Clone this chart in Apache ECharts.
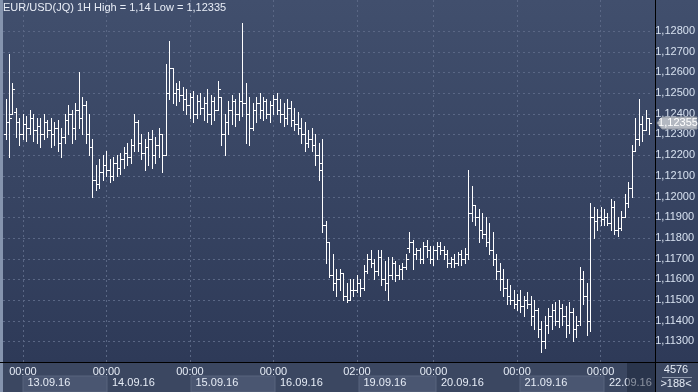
<!DOCTYPE html>
<html><head><meta charset="utf-8">
<script src="https://cdn.jsdelivr.net/npm/echarts@6/dist/echarts.min.js"></script>
<style>
html,body{margin:0;padding:0;width:698px;height:392px;overflow:hidden;background:#3a465f;}
#c{width:698px;height:392px;background:linear-gradient(to bottom,#414f6d 0px,#2e3a58 362px,#3b4761 362px,#3b4761 392px);}
</style></head><body><div id="c"></div>
<script>
// trading sessions shown: [date, first hour, last hour]
const sessions = [
  ['12.09.16', 19, 23], ['13.09.16', 0, 23], ['14.09.16', 0, 23], ['15.09.16', 0, 23],
  ['16.09.16', 0, 23], ['19.09.16', 2, 23], ['20.09.16', 0, 23], ['21.09.16', 0, 23],
  ['22.09.16', 0, 14]
];
const opens = [1.1230,1.1236,1.1240,1.1241,1.1236,1.1230,1.1235,1.1233,1.1238,1.1232,
1.1234,1.1230,1.1236,1.1232,1.1230,1.1233,1.1226,1.1229,1.1237,1.1240,
1.1233,1.1242,1.1238,1.1244,1.1230,1.1224,1.1208,1.1206,1.1212,1.1215,
1.1213,1.1210,1.1216,1.1214,1.1218,1.1221,1.1219,1.1225,1.1236,1.1226,
1.1221,1.1224,1.1228,1.1220,1.1225,1.1230,1.1220,1.1250,1.1262,1.1250,
1.1252,1.1249,1.1247,1.1244,1.1248,1.1240,1.1246,1.1243,1.1245,1.1240,
1.1246,1.1242,1.1248,1.1230,1.1236,1.1242,1.1246,1.1240,1.1246,1.1245,
1.1240,1.1233,1.1242,1.1245,1.1242,1.1246,1.1240,1.1244,1.1247,1.1242,
1.1240,1.1238,1.1243,1.1237,1.1235,1.1233,1.1230,1.1226,1.1228,1.1225,
1.1220,1.1216,1.1186,1.1178,1.1162,1.1158,1.1160,1.1163,1.1152,1.1150,
1.1155,1.1155,1.1158,1.1156,1.1164,1.1170,1.1168,1.1164,1.1171,1.1160,
1.1158,1.1162,1.1168,1.1162,1.1165,1.1166,1.1175,1.1178,1.1172,1.1174,
1.1170,1.1176,1.1174,1.1170,1.1174,1.1176,1.1174,1.1172,1.1168,1.1170,
1.1168,1.1172,1.1170,1.1172,1.1192,1.1196,1.1190,1.1184,1.1182,1.1178,
1.1174,1.1170,1.1164,1.1160,1.1156,1.1152,1.1150,1.1148,1.1150,1.1147,
1.1150,1.1148,1.1142,1.1145,1.1136,1.1130,1.1138,1.1142,1.1145,1.1140,
1.1146,1.1142,1.1138,1.1144,1.1136,1.1140,1.1160,1.1152,1.1140,1.1190,
1.1188,1.1190,1.1189,1.1190,1.1187,1.1195,1.1184,1.1185,1.1190,1.1197,
1.1204,1.1222,1.1228,1.1235,1.1232,1.1238];
const highs = [1.1247,1.1269,1.1255,1.1243,1.1238,1.1240,1.1239,1.1242,1.1240,1.1238,
1.1238,1.1240,1.1237,1.1238,1.1236,1.1237,1.1233,1.1240,1.1244,1.1242,
1.1245,1.1260,1.1248,1.1246,1.1240,1.1228,1.1215,1.1218,1.1220,1.1222,
1.1218,1.1219,1.1220,1.1221,1.1224,1.1226,1.1228,1.1240,1.1237,1.1230,
1.1228,1.1231,1.1232,1.1229,1.1233,1.1230,1.1264,1.1275,1.1262,1.1255,
1.1256,1.1253,1.1252,1.1250,1.1251,1.1249,1.1250,1.1248,1.1252,1.1249,
1.1248,1.1256,1.1248,1.1240,1.1246,1.1249,1.1247,1.1250,1.1284,1.1255,
1.1248,1.1245,1.1248,1.1250,1.1248,1.1247,1.1246,1.1249,1.1250,1.1247,
1.1245,1.1247,1.1246,1.1243,1.1241,1.1238,1.1236,1.1232,1.1233,1.1230,
1.1226,1.1228,1.1188,1.1178,1.1172,1.1165,1.1165,1.1163,1.1158,1.1160,
1.1160,1.1162,1.1160,1.1167,1.1172,1.1174,1.1170,1.1174,1.1174,1.1169,
1.1171,1.1171,1.1169,1.1167,1.1168,1.1172,1.1183,1.1179,1.1175,1.1175,
1.1178,1.1179,1.1176,1.1176,1.1178,1.1178,1.1176,1.1174,1.1171,1.1172,
1.1173,1.1174,1.1175,1.1213,1.1205,1.1196,1.1194,1.1192,1.1190,1.1187,
1.1183,1.1172,1.1168,1.1165,1.1160,1.1157,1.1155,1.1153,1.1155,1.1152,
1.1154,1.1152,1.1150,1.1146,1.1140,1.1142,1.1146,1.1148,1.1149,1.1150,
1.1148,1.1147,1.1149,1.1146,1.1142,1.1166,1.1164,1.1158,1.1197,1.1195,
1.1194,1.1195,1.1194,1.1192,1.1199,1.1198,1.1190,1.1193,1.1201,1.1207,
1.1225,1.1238,1.1247,1.1239,1.1242,1.1238];
const lows = [1.1228,1.1219,1.1240,1.1229,1.1225,1.1228,1.1227,1.1230,1.1227,1.1226,
1.1224,1.1228,1.1229,1.1224,1.1225,1.1222,1.1219,1.1226,1.1230,1.1226,
1.1228,1.1233,1.1230,1.1226,1.1220,1.1200,1.1203,1.1204,1.1208,1.1210,
1.1207,1.1208,1.1210,1.1211,1.1214,1.1215,1.1216,1.1222,1.1222,1.1218,
1.1213,1.1215,1.1214,1.1216,1.1219,1.1212,1.1220,1.1247,1.1245,1.1244,
1.1246,1.1242,1.1240,1.1238,1.1236,1.1238,1.1240,1.1237,1.1236,1.1235,
1.1237,1.1242,1.1225,1.1220,1.1230,1.1235,1.1234,1.1237,1.1239,1.1226,
1.1225,1.1232,1.1236,1.1238,1.1237,1.1238,1.1236,1.1240,1.1240,1.1236,
1.1234,1.1235,1.1234,1.1232,1.1230,1.1226,1.1222,1.1224,1.1222,1.1215,
1.1208,1.1183,1.1168,1.1161,1.1155,1.1152,1.1155,1.1150,1.1149,1.1150,
1.1152,1.1154,1.1152,1.1155,1.1163,1.1166,1.1160,1.1162,1.1157,1.1155,
1.1150,1.1160,1.1159,1.1160,1.1160,1.1165,1.1173,1.1165,1.1170,1.1168,
1.1168,1.1171,1.1168,1.1167,1.1170,1.1172,1.1170,1.1166,1.1166,1.1166,
1.1167,1.1167,1.1168,1.1170,1.1188,1.1186,1.1178,1.1180,1.1176,1.1172,
1.1167,1.1160,1.1155,1.1152,1.1148,1.1148,1.1146,1.1145,1.1144,1.1142,
1.1146,1.1138,1.1136,1.1132,1.1125,1.1127,1.1134,1.1136,1.1138,1.1137,
1.1138,1.1132,1.1134,1.1130,1.1132,1.1138,1.1148,1.1133,1.1135,1.1180,
1.1184,1.1186,1.1186,1.1186,1.1184,1.1182,1.1181,1.1184,1.1190,1.1195,
1.1200,1.1222,1.1225,1.1227,1.1232,1.1230];
const closes = [1.1236,1.1238,1.1252,1.1236,1.1230,1.1235,1.1233,1.1238,1.1232,1.1234,
1.1230,1.1236,1.1232,1.1230,1.1233,1.1226,1.1229,1.1237,1.1240,1.1233,
1.1242,1.1238,1.1244,1.1230,1.1224,1.1208,1.1206,1.1212,1.1215,1.1213,
1.1210,1.1216,1.1214,1.1218,1.1221,1.1219,1.1225,1.1236,1.1226,1.1221,
1.1224,1.1228,1.1220,1.1225,1.1230,1.1220,1.1250,1.1262,1.1250,1.1252,
1.1249,1.1247,1.1244,1.1248,1.1240,1.1246,1.1243,1.1245,1.1240,1.1246,
1.1242,1.1252,1.1230,1.1236,1.1242,1.1246,1.1240,1.1246,1.1245,1.1240,
1.1233,1.1242,1.1245,1.1242,1.1246,1.1240,1.1244,1.1247,1.1242,1.1240,
1.1238,1.1243,1.1237,1.1235,1.1233,1.1230,1.1226,1.1228,1.1225,1.1220,
1.1213,1.1186,1.1178,1.1162,1.1158,1.1160,1.1163,1.1152,1.1150,1.1155,
1.1155,1.1158,1.1156,1.1164,1.1170,1.1168,1.1164,1.1171,1.1160,1.1158,
1.1162,1.1168,1.1162,1.1165,1.1166,1.1170,1.1178,1.1172,1.1174,1.1170,
1.1176,1.1174,1.1170,1.1174,1.1176,1.1174,1.1172,1.1168,1.1170,1.1168,
1.1172,1.1170,1.1172,1.1192,1.1196,1.1190,1.1184,1.1182,1.1178,1.1174,
1.1170,1.1164,1.1160,1.1156,1.1152,1.1150,1.1148,1.1150,1.1147,1.1150,
1.1148,1.1142,1.1145,1.1136,1.1130,1.1138,1.1142,1.1145,1.1140,1.1146,
1.1142,1.1138,1.1144,1.1136,1.1138,1.1160,1.1152,1.1140,1.1190,1.1188,
1.1190,1.1189,1.1190,1.1187,1.1195,1.1184,1.1185,1.1190,1.1197,1.1204,
1.1222,1.1228,1.1235,1.1232,1.1238,1.12355];
const yTicks = [1.113,1.114,1.115,1.116,1.117,1.118,1.119,1.120,1.121,1.122,1.123,1.124,1.125,1.126,1.127,1.128];
const titleText = 'EUR/USD(JQ) 1H High = 1,14 Low = 1,12335';
const cornerTop = '4576';
const cornerBottom = '>188<';

const FONT = "'Liberation Sans Narrow','Arial Narrow','Liberation Sans',Arial,sans-serif";
const categories = [];
const catDate = [];
sessions.forEach(s => {
  for (let h = s[1]; h <= s[2]; h++) {
    categories.push(s[0] + ' ' + String(h).padStart(2, '0') + ':00');
    catDate.push(s[0]);
  }
});
const dayStart = categories.map((c, i) => i > 0 && catDate[i] !== catDate[i - 1]);
const n = Math.min(categories.length, opens.length, highs.length, lows.length, closes.length);
const ohlc = [];
for (let i = 0; i < n; i++) ohlc.push([i, opens[i], closes[i], lows[i], highs[i]]);

const dayAreas = [];
let dayNo = 0;
for (let i = 1; i < categories.length; i++) {
  if (!dayStart[i]) continue;
  let j = i + 1;
  while (j < categories.length && !dayStart[j]) j++;
  const endIdx = Math.min(j, categories.length - 1);
  const light = dayNo % 2 === 0;
  dayAreas.push([
    { name: catDate[i], xAxis: categories[i],
      itemStyle: light ? { color: '#4a5671', borderColor: '#58647e', borderWidth: 1 } : { color: 'rgba(0,0,0,0)' } },
    { xAxis: categories[endIdx] }
  ]);
  dayNo++;
}

const fmt = v => v.toFixed(5).replace('.', ',');
const GRID_COLOR = '#5a6785';
const chart = echarts.init(document.getElementById('c'), null, { renderer: 'canvas' });
chart.setOption({
  backgroundColor: 'transparent',
  animation: false,
  title: { text: titleText, left: 3, top: 2, padding: 0,
    textStyle: { color: '#e9eef7', fontSize: 11, fontWeight: 'normal', fontFamily: FONT } },
  grid: [
    { left: 5.5, right: 45, top: 0, bottom: 30 },
    { left: 5.5, right: 45, top: 376, height: 16 }
  ],
  xAxis: [
    { type: 'category', gridIndex: 0, data: categories, boundaryGap: false,
      axisLine: { show: false }, axisTick: { show: false },
      axisLabel: { interval: (i) => dayStart[i], formatter: v => v.split(' ')[1],
        color: '#e6ecf6', fontSize: 11, fontFamily: FONT, margin: 4 },
      splitLine: { show: true, interval: (i) => dayStart[i],
        lineStyle: { color: GRID_COLOR, type: [2, 3], width: 1 } } },
    { type: 'category', gridIndex: 1, data: categories, boundaryGap: false,
      axisLine: { show: false }, axisTick: { show: false }, axisLabel: { show: false },
      splitLine: { show: false } }
  ],
  yAxis: [
    { type: 'value', gridIndex: 0, position: 'right', offset: 2, min: 1.1120, max: 1.1295, interval: 0.001,
      axisLine: { show: false }, axisTick: { show: false }, splitLine: { show: false },
      axisLabel: { margin: 4, color: '#d6e0ef', fontSize: 11, fontFamily: FONT,
        formatter: v => (v > 1.1125 && v < 1.1285) ? fmt(v) : '' } },
    { type: 'value', gridIndex: 1, min: 0, max: 1, show: false }
  ],
  series: [
    // horizontal dashed grid lines at the price ticks
    { type: 'custom', name: 'grid', xAxisIndex: 0, yAxisIndex: 0, z: 1, silent: true,
      data: yTicks.map(v => [0, v]), encode: { x: 0, y: 1 },
      renderItem: function (params, api) {
        const cs = params.coordSys;
        const y = Math.round(api.coord([0, api.value(1)])[1]) + 0.5;
        return { type: 'line', shape: { x1: cs.x - 2.5, y1: y, x2: cs.x + cs.width + 2, y2: y },
          style: { stroke: GRID_COLOR, lineWidth: 1, lineDash: [2, 3] } };
      } },
    { type: 'custom', name: 'EUR/USD', xAxisIndex: 0, yAxisIndex: 0, z: 3,
      data: ohlc, encode: { x: 0, y: [1, 2, 3, 4] },
      renderItem: function (params, api) {
        const i = api.value(0);
        const po = api.coord([i, api.value(1)]);
        const pc = api.coord([i, api.value(2)]);
        const pl = api.coord([i, api.value(3)]);
        const ph = api.coord([i, api.value(4)]);
        const x = Math.round(po[0]) + 0.5;
        const yo = Math.round(po[1]) + 0.5, yc = Math.round(pc[1]) + 0.5;
        const st = { stroke: '#ffffff', lineWidth: 1 };
        return { type: 'group', children: [
          { type: 'line', shape: { x1: x, y1: Math.round(ph[1]), x2: x, y2: Math.round(pl[1]) + 1 }, style: st },
          { type: 'line', shape: { x1: x - 2.5, y1: yo, x2: x, y2: yo }, style: st },
          { type: 'line', shape: { x1: x, y1: yc, x2: x + 2.5, y2: yc }, style: st }
        ] };
      } },
    { type: 'line', xAxisIndex: 1, yAxisIndex: 1, data: categories.map(() => null), symbol: 'none', silent: true,
      markArea: { silent: true,
        label: { show: true, position: 'insideLeft', formatter: '{b}', color: '#e6ecf6', fontSize: 11, fontFamily: FONT, offset: [0, -1] },
        data: dayAreas } }
  ]
});

const lastClose = closes[n - 1];
const ty = Math.round(chart.convertToPixel({ yAxisIndex: 0 }, lastClose));
const txt = (x, y, s, fill) => ({ type: 'text', x: x, y: y, z: 13,
  style: { text: s, fill: fill || '#e6ecf6', fontSize: 11, fontFamily: FONT, align: 'center', verticalAlign: 'middle' } });
chart.setOption({
  graphic: [
    { type: 'rect', shape: { x: 0, y: 0, width: 3, height: 392 }, style: { fill: '#8594ae' }, z: 10 },
    { type: 'rect', shape: { x: 627, y: 363, width: 28, height: 29 }, style: { fill: 'rgba(22,30,50,0.45)' }, z: 10 },
    { type: 'line', shape: { x1: 655.5, y1: 0, x2: 655.5, y2: 392 }, style: { stroke: '#000', lineWidth: 1 }, z: 11 },
    { type: 'line', shape: { x1: 0, y1: 362.5, x2: 698, y2: 362.5 }, style: { stroke: '#000', lineWidth: 1 }, z: 11 },
    { type: 'polygon', shape: { points: [[657, ty], [662, ty - 6], [697, ty - 6], [697, ty + 6], [662, ty + 6]] },
      style: { fill: '#b3b8c1', stroke: '#8d939e', lineWidth: 1 }, z: 12 },
    txt(678, ty, fmt(lastClose), '#ffffff'),
    txt(676, 370, cornerTop),
    { type: 'line', shape: { x1: 662, y1: 377.5, x2: 692, y2: 377.5 }, style: { stroke: '#8a94a8', lineWidth: 1 }, z: 13 },
    txt(676, 384, cornerBottom)
  ]
});
</script></body></html>
